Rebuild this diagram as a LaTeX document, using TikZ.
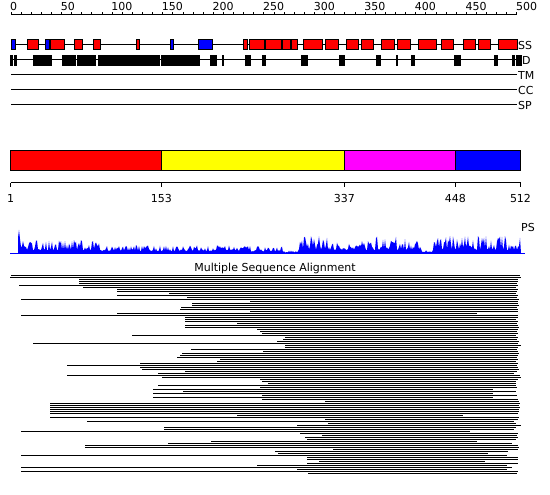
\documentclass[tikz,border=0pt]{standalone}
\usepackage{fontspec}
\setmainfont{DejaVu Sans}
\usepackage{tikz}
\usetikzlibrary{positioning}

\definecolor{helixred}{RGB}{255,0,0}
\definecolor{strandblue}{RGB}{0,0,255}
\definecolor{domyellow}{RGB}{255,255,0}
\definecolor{dommagenta}{RGB}{255,0,255}

\tikzset{
  every node/.style={font=\fontsize{11}{13}\selectfont, inner sep=0pt},
  trackline/.style={line width=1pt},
  helixbox/.style={fill=helixred, draw=black, line width=1pt},
  strandbox/.style={fill=strandblue, draw=black, line width=1pt},
  disobox/.style={fill=black, draw=black, line width=0.6pt},
  tracklabel/.style={anchor=west, inner xsep=1pt},
  dombox/.style={draw=black, line width=1pt},
  msaline/.style={line width=1pt},
}

\begin{document}
\begin{tikzpicture}[x=1pt, y=-1pt]
  \useasboundingbox (0,0) rectangle (550,495);

  % ruler: residue r sits at x = 11 + 1.012 r
  \draw[trackline] (11,15) -- (517,15);
  \foreach \r in {0,10,...,500}
    \draw[trackline] ({11+1.012*\r},15) -- ++(0,-3);
  \foreach \r in {0,50,...,500}
    \node[anchor=base west] (rul\r) at ({10+1.012*\r},10.5) {\r};

  % tracks
  \draw[trackline] (11,45) -- (517,45);
  \draw[trackline] (11,60) -- (517,60);
  \draw[trackline] (11,75) -- (517,75);
  \draw[trackline] (11,90) -- (517,90);
  \draw[trackline] (11,105) -- (517,105);

  % SS: helices and strands
  \foreach \a/\b in {27/38, 50/64, 74/82, 93/100, 136/139, 243/247, 249/264,
                     265/281, 282/290, 291/297, 303/322, 325/338, 346/358,
                     361/373, 381/394, 397/410, 418/436, 441/453, 463/475,
                     478/490, 498/517}
    \draw[helixbox] (\a,40) rectangle (\b,50);
  \foreach \a/\b in {11/15.7, 45/49, 170/173, 198/212}
    \draw[strandbox] (\a,40) rectangle (\b,50);

  % D: disordered stretches
  \foreach \a/\b in {10/12.3, 14/16.7, 33/51, 62/75, 77/95, 98/159, 161/199,
                     210/216, 222/223, 245/250, 262/265, 301/307, 339/344,
                     376/380.7, 396.3/397.7, 411/414.3, 454.3/460.7,
                     494.3/497.7, 512/514.3, 516/521}
    \draw[disobox] (\a,55) rectangle (\b,65);

  \node[tracklabel] (ss) at (517,45) {SS};
  \node[tracklabel] (dis) at (521,60) {D};
  \node[tracklabel] (tm) at (517,75) {TM};
  \node[tracklabel] (cc) at (517,90) {CC};
  \node[tracklabel] (sp) at (517,105) {SP};

  % domain bar
  \fill[helixred] (10.5,150.5) rectangle (161.3,171);
  \fill[domyellow] (161.3,150.5) rectangle (344.4,171);
  \fill[dommagenta] (344.4,150.5) rectangle (455.3,171);
  \fill[strandblue] (455.3,150.5) rectangle (520.5,171);
  \foreach \x in {161.3, 344.4, 455.3}
    \draw[dombox] (\x,150.5) -- (\x,171);
  \draw[dombox] (10.5,150.5) rectangle (520.5,171);

  \draw[trackline] (10.5,183) -- (520.5,183);
  \foreach \x/\t in {10.5/1, 161.3/153, 344.4/337, 455.3/448, 520.5/512} {
    \draw[trackline] (\x,183) -- (\x,187);
    \node[anchor=base] (dom\t) at (\x,203) {\t};
  }

  % PS profile
  \pgfmathsetseed{17}
  \fill[strandblue] (18,253)
    \foreach \a/\b/\lo/\hi in {18/20/14/24, 21/26/6/16, 27/100/3/13,
                               101/250/2/8, 251/282/1.5/7, 283/298/0.5/2.5,
                               299/420/3/17, 421/432/1/5, 433/520/3/17} {
      \foreach \x in {\a,...,\b} { -- (\x,{253-\lo-(\hi-\lo)*rnd^2}) }
    } -- (521,253) -- cycle;
  \draw[strandblue, line width=1pt] (10,253) -- (525,253);
  \node[anchor=base west] (ps) at (521,231.5) {PS};

  \node[anchor=base] (msa) at (275,271) {Multiple Sequence Alignment};

  % alignment rows: start/end
  \foreach \s/\e [count=\k from 0] in {
      11/520, 10/521, 79/518, 79/518, 79/517, 19/518, 83/516, 117/518,
      117/517, 169/516, 117/518, 187/517, 21/519, 250/518, 192/518,
      192/519, 181/517, 180/518, 250/518, 117/477, 21/518, 185/518,
      185/516, 185/518, 237/517, 185/518, 185/519, 257/518, 260/517,
      262/518, 132/516, 285/518, 283/517, 277/519, 33/518, 285/521,
      285/518, 191/517, 263/518, 182/519, 180/518, 177/517, 220/518,
      217/516, 140/518, 67/517, 140/518, 142/519, 185/517, 158/514,
      67/520, 162/521, 260/518, 262/516, 268/516, 158/516, 260/517,
      153/493, 183/516, 153/493, 262/517, 153/493, 262/518, 325/519,
      50/520, 50/519, 50/520, 50/519, 50/519, 50/518, 237/463, 50/519,
      325/518, 87/514, 328/516, 297/521, 164/516, 164/514, 21/470,
      300/518, 322/517, 305/518, 307/516, 211/477, 168/512, 85/518,
      85/519, 333/518, 275/508, 278/488, 21/507, 307/518, 307/518,
      319/485, 307/518, 257/507, 21/512, 297/507, 21/518, 308/517}
    \draw[msaline] (\s,{275+2*\k}) -- (\e,{275+2*\k});
\end{tikzpicture}
\end{document}
